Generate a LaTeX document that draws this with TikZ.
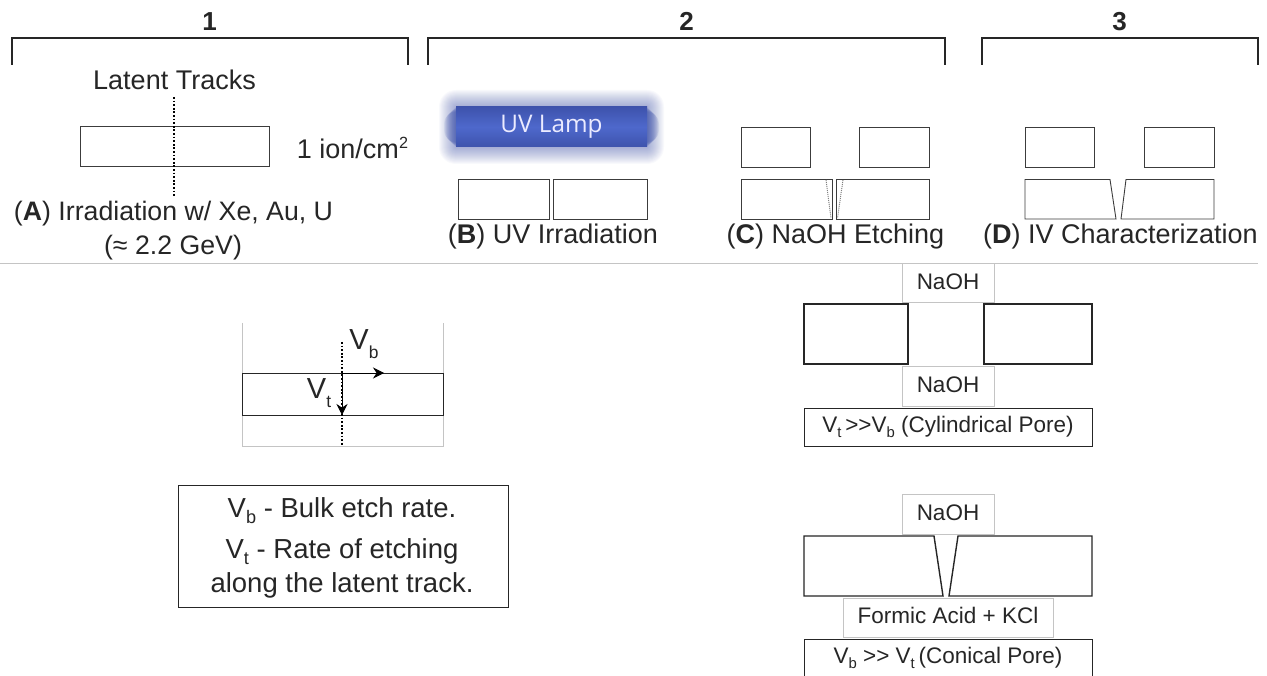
\documentclass[tikz,border=0pt]{standalone}
\usepackage{fontspec}
\setmainfont{Liberation Sans}
\newfontfamily\lampfont{Open Sans}
\usetikzlibrary{arrows.meta,calc}
\definecolor{edge}{HTML}{3C3C3C}
\definecolor{greyline}{HTML}{C4C4C4}
\definecolor{lampmid}{HTML}{4E68CC}
\definecolor{lampdark}{HTML}{3E53AC}
\newcommand{\subsc}[1]{\raisebox{-0.22em}{\fontsize{0.66em}{1em}\selectfont #1}}
\newcommand{\lowsc}[1]{\raisebox{-0.31em}{\fontsize{0.6em}{1em}\selectfont #1}}
\newcommand{\supsc}[1]{\raisebox{0.36em}{\fontsize{0.6em}{1em}\selectfont #1}}
\tikzset{
  x=1pt,y=-1pt,
  thickplate/.style={draw=black!85,line width=1.4pt},
  cap24/.style={anchor=base,inner sep=0pt,yshift=-0.7pt,font=\fontsize{27}{27}\selectfont,text=black!85},
  cap20/.style={anchor=base,inner sep=0pt,yshift=-0.7pt,font=\fontsize{22.5}{23}\selectfont,text=black!85},
  greybox/.style={draw=greyline,line width=1pt,fill=white,inner sep=0pt},
  blackbox/.style={draw=black!85,line width=1pt,fill=white,inner sep=0pt},
  track/.style={dash pattern=on 1.8pt off 1.8pt,line width=1.8pt,black},
  bracketline/.style={draw=black!85,line width=1.2pt},
  tip/.style={-{Stealth[length=11pt,width=11pt]},line width=0.8pt,black}
}
\begin{document}
\begin{tikzpicture}
\useasboundingbox (0,0) rectangle (1267,676);
\fill[white] (0,0) rectangle (1267,676);

% brackets
\draw[bracketline] (12,65) -- (12,38) -- (408,38) -- (408,65);
\draw[bracketline] (428,65) -- (428,38) -- (945,38) -- (945,65);
\draw[bracketline] (982,65) -- (982,38) -- (1258,38) -- (1258,65);
\node[cap24,font=\bfseries\fontsize{26}{26}\selectfont] (n1) at (209.5,29.5) {1};
\node[cap24,font=\bfseries\fontsize{26}{26}\selectfont] (n2) at (686.5,29.5) {2};
\node[cap24,font=\bfseries\fontsize{26}{26}\selectfont] (n3) at (1119.5,29.5) {3};

% A
\node[cap24] (latent) at (174.5,89) {Latent Tracks};
\draw[edge,line width=0.9pt] (80,126) rectangle (269,166);
\coordinate (ta) at (174,97); \coordinate (tb) at (174,196);
\draw[track] (ta) -- (tb);
\node[cap24] (dose) at (352.5,158) {1 ion/cm\supsc{2}};
\node[cap24,font=\fontsize{26.7}{27}\selectfont] (capA) at (173.5,220) {(\textbf{A}) Irradiation w/ Xe, Au, U};
\node[cap24,font=\fontsize{26.7}{27}\selectfont] (capA2) at (173,254) {(≈ 2.2 GeV)};

% B
\foreach \d in {1,2,...,17}{
  \fill[lampdark,opacity=0.032,rounded corners=\d pt] ($(456,107)+(-\d,-\d)$) rectangle ($(647,147)+(\d,\d)$);
}
\foreach \d in {1,2,...,12}{
  \fill[lampdark,opacity=0.085,rounded corners=\d pt] ($(456,107)+(-\d,\d*0.4)$) rectangle ($(647,147)+(\d,-\d*0.4)$);
}
\node[minimum width=191pt,minimum height=40pt,inner sep=0pt,top color=lampdark,bottom color=lampdark,middle color=lampmid,text=white!92!blue,font=\lampfont\fontsize{24.3}{24}\selectfont] (lamp) at (551.5,127) {\raisebox{-4pt}{UV Lamp}};
\draw[edge,line width=0.9pt] (458,179) rectangle (549,219);
\draw[edge,line width=0.9pt] (553,179) rectangle (647,219);
\node[cap24] (capB) at (553,243) {(\textbf{B}) UV Irradiation};

% C
\draw[edge,line width=0.9pt] (741,127) rectangle (810,167);
\draw[edge,line width=0.9pt] (859,127) rectangle (929,167);
\draw[edge,line width=0.9pt] (741,179) rectangle (832,219);
\draw[edge,line width=0.9pt] (836.5,179) rectangle (929,219);
\draw[gray,densely dotted,line width=1pt] (826,180) -- (831,218);
\draw[gray,densely dotted,line width=1pt] (843,180) -- (837.5,218);
\node[cap24] (capC) at (835.5,243) {(\textbf{C}) NaOH Etching};

% D
\draw[edge,line width=0.9pt] (1025,127) rectangle (1094,167);
\draw[edge,line width=0.9pt] (1144,127) rectangle (1214,167);
\draw[edge,line width=0.9pt] (1025,179.5) -- (1110,179.5) -- (1116,219) -- (1025,219) -- cycle;
\draw[edge,line width=0.9pt] (1214,179.5) -- (1126,179.5) -- (1121,219) -- (1214,219) -- cycle;
\node[cap24] (capD) at (1120.5,243) {(\textbf{D}) IV Characterization};

% separator
\draw[greyline,line width=1pt] (0,263.5) -- (1258,263.5);

% rates sketch
\draw[greyline,line width=0.8pt] (242,323) -- (242,446) -- (443.5,446) -- (443.5,323);
\draw[black!85,line width=0.9pt,fill=white] (242,373) rectangle (443,415);
\coordinate (t1) at (342,342); \coordinate (t2) at (342,446);
\coordinate (v1) at (342,373); \coordinate (v2) at (342,415);
\coordinate (h2) at (384,373);
\draw[track] (t1) -- (t2);
\draw[tip] (v1) -- (v2);
\draw[tip] (v1) -- (h2);
\node[cap24,font=\fontsize{29}{29}\selectfont] (vb) at (364,349) {V\lowsc{b}};
\node[cap24,font=\fontsize{29}{29}\selectfont] (vt) at (319,398) {V\lowsc{t}};

% definition box
\draw[black!85,line width=1pt] (178,485) rectangle (508,607);
\node[cap24,font=\fontsize{27.5}{28}\selectfont] (d1) at (342,517) {V\subsc{b} - Bulk etch rate.};
\node[cap24,font=\fontsize{27.5}{28}\selectfont] (d2) at (342,558) {V\subsc{t} - Rate of etching};
\node[cap24,font=\fontsize{27.5}{28}\selectfont] (d3) at (342,592) {along the latent track.};

% cylindrical
\draw[greybox] (902,264) rectangle (994,303);
\draw[thickplate] (804,304) rectangle (908,364);
\draw[thickplate] (984,304) rectangle (1092,364);
\node[cap20] (na1) at (948,288.5) {NaOH};
\draw[greybox] (902,367) rectangle (994,406);
\node[cap20] (na2) at (948,392) {NaOH};
\draw[blackbox] (804,408) rectangle (1092,446);
\node[cap20] (cyl) at (948,432) {V\subsc{t}\,>{}>V\subsc{b} (Cylindrical Pore)};

% conical
\draw[greybox] (902,494) rectangle (994,534);
\node[cap20] (na3) at (948,520) {NaOH};
\draw[thickplate] (804,536) -- (934,536) -- (943,596) -- (804,596) -- cycle;
\draw[thickplate] (1092,536) -- (958,536) -- (949,596) -- (1092,596) -- cycle;
\draw[greybox] (843,598) rectangle (1053,637);
\node[cap20] (fa) at (948,623) {Formic Acid + KCl};
\draw[black!85,line width=1pt] (804,676) -- (804,639) -- (1092,639) -- (1092,676);
\node[cap20] (con) at (948,663) {V\subsc{b} >{}> V\subsc{t}\,(Conical Pore)};
\end{tikzpicture}
\end{document}
